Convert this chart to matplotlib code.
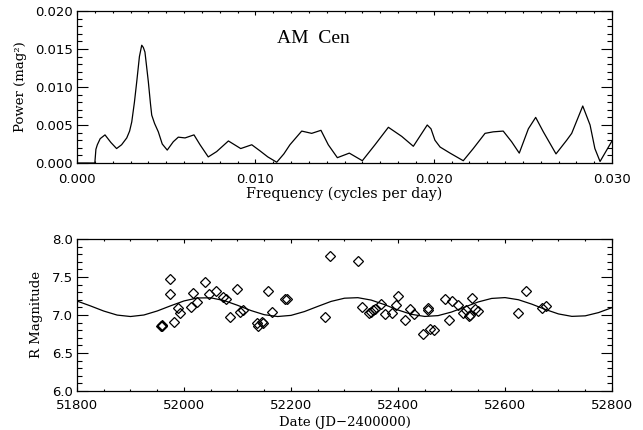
import matplotlib
matplotlib.use("Agg")
import matplotlib.pyplot as plt
from matplotlib.ticker import MultipleLocator, FormatStrFormatter


# periodogram (upper panel)
freq = [0.0, 0.00100, 0.00106, 0.00114, 0.00130, 0.00157, 0.00190, 0.00222, 0.00250,
        0.00279, 0.00295, 0.00307, 0.00322, 0.00335, 0.00350, 0.00363, 0.00372, 0.00381,
        0.00400, 0.00412, 0.00419, 0.00435, 0.00456, 0.00478, 0.00506, 0.00540, 0.00568,
        0.00606, 0.00656, 0.00690, 0.00736, 0.00783, 0.00849, 0.00918, 0.00980, 0.01026,
        0.01070, 0.01120, 0.01160, 0.01194, 0.01260, 0.01316, 0.01368, 0.01409, 0.01460,
        0.01527, 0.01600, 0.01671, 0.01746, 0.01821, 0.01886, 0.01964, 0.01985, 0.02007,
        0.02036, 0.02092, 0.02166, 0.02222, 0.02288, 0.02334, 0.02390, 0.02437, 0.02480,
        0.02531, 0.02572, 0.02615, 0.02686, 0.02746, 0.02774, 0.02836, 0.02877, 0.02904,
        0.02933, 0.03000]
power = [0.0, 0.0, 0.0018, 0.0024, 0.0032, 0.0037, 0.0027, 0.0019, 0.0024,
         0.0033, 0.0042, 0.0054, 0.0080, 0.0107, 0.0140, 0.0155, 0.0152, 0.0146,
         0.0107, 0.0078, 0.0063, 0.0052, 0.0041, 0.0025, 0.0017, 0.0028, 0.0034,
         0.0033, 0.0037, 0.0024, 0.0008, 0.0015, 0.0029, 0.0019, 0.0024, 0.0016,
         0.0008, 0.0001, 0.0012, 0.0024, 0.0042, 0.0039, 0.0043, 0.0024, 0.0007,
         0.0013, 0.0003, 0.0024, 0.0047, 0.0035, 0.0022, 0.0050, 0.0045, 0.0030,
         0.0021, 0.0013, 0.0003, 0.0019, 0.0039, 0.0041, 0.0042, 0.0028, 0.0013,
         0.0045, 0.0060, 0.0041, 0.0012, 0.0030, 0.0039, 0.0075, 0.0050, 0.0019,
         0.0002, 0.0029]

# photometry (lower panel)
jd = [51957, 51958, 51959, 51974, 51974, 51982, 51988, 51993, 52013, 52017, 52024,
      52040, 52047, 52060, 52072, 52079, 52086, 52100, 52105, 52111, 52136, 52139,
      52145, 52148, 52157, 52164, 52188, 52192, 52264, 52272, 52326, 52333, 52345,
      52350, 52354, 52357, 52368, 52376, 52389, 52396, 52400, 52413, 52422, 52429,
      52447, 52456, 52457, 52459, 52467, 52487, 52495, 52501, 52513, 52521, 52527,
      52533, 52534, 52539, 52544, 52550, 52625, 52639, 52670, 52677]
rmag = [6.86, 6.87, 6.85, 7.48, 7.28, 6.91, 7.09, 7.02, 7.10, 7.29, 7.17,
        7.43, 7.28, 7.31, 7.24, 7.21, 6.98, 7.34, 7.04, 7.07, 6.89, 6.85,
        6.91, 6.90, 7.32, 7.04, 7.21, 7.21, 6.98, 7.78, 7.71, 7.10, 7.03,
        7.04, 7.07, 7.08, 7.14, 7.01, 7.02, 7.13, 7.25, 6.94, 7.08, 7.01,
        6.75, 7.09, 7.07, 6.82, 6.80, 7.21, 6.93, 7.19, 7.13, 7.03, 7.07,
        6.99, 7.00, 7.23, 7.08, 7.05, 7.02, 7.31, 7.09, 7.12]

# fitted curve every 25 days
fit_jd = list(range(51800, 52801, 25))
fit_mag = [7.184, 7.120, 7.052, 6.999, 6.980, 7.000, 7.053, 7.121, 7.185, 7.224,
           7.226, 7.190, 7.128, 7.059, 7.004, 6.980, 6.995, 7.045, 7.113, 7.179,
           7.221, 7.228, 7.196, 7.136, 7.066, 7.009, 6.981, 6.992, 7.039, 7.105,
           7.172, 7.218, 7.229, 7.201, 7.143, 7.074, 7.014, 6.982, 6.989, 7.032,
           7.097]

W, H = 643, 430
fig = plt.figure(figsize=(W / 100, H / 100), dpi=100)
ax1 = fig.add_axes([77 / W, 1 - 163 / H, 535 / W, 152 / H])
ax2 = fig.add_axes([77 / W, 1 - 391 / H, 535 / W, 152 / H])

lab = dict(family="DejaVu Serif", fontsize=9.5)

for ax in (ax1, ax2):
    for s in ax.spines.values():
        s.set_linewidth(0.9)
    ax.tick_params(which="both", direction="in", top=True, right=True,
                   width=0.8, labelsize=9.5)
    ax.tick_params(axis="x", which="major", length=2.6)
    ax.tick_params(axis="x", which="minor", length=1.4)
    ax.tick_params(axis="y", which="major", length=7.7, pad=3)
    ax.tick_params(axis="y", which="minor", length=3.9)

ax1.plot(freq, power, color="black", lw=0.9)
ax1.set_xlim(0, 0.03)
ax1.set_ylim(0, 0.02)
ax1.xaxis.set_major_locator(MultipleLocator(0.01))
ax1.xaxis.set_minor_locator(MultipleLocator(0.001))
ax1.yaxis.set_major_locator(MultipleLocator(0.005))
ax1.yaxis.set_minor_locator(MultipleLocator(0.001))
ax1.xaxis.set_major_formatter(FormatStrFormatter("%.3f"))
ax1.yaxis.set_major_formatter(FormatStrFormatter("%.3f"))
ax1.tick_params(axis="x", pad=7.5)
ax1.set_xlabel("Frequency (cycles per day)", va="center", family="DejaVu Serif",
               fontsize=10.3)
ax1.xaxis.set_label_coords(0.5, -0.205)
ax1.set_ylabel("Power (mag²)", va="center", **lab)
ax1.yaxis.set_label_coords(-0.1065, 0.5)
ax1.text(0.0112, 0.0164, "AM  Cen", family="Liberation Serif", fontsize=14,
         va="center", ha="left")

ax2.plot(fit_jd, fit_mag, color="black", lw=0.9)
ax2.plot(jd, rmag, ls="none", marker="D", ms=4.6, mfc="none", mec="black", mew=0.9)
ax2.set_xlim(51800, 52800)
ax2.set_ylim(6.0, 8.0)
ax2.xaxis.set_major_locator(MultipleLocator(200))
ax2.xaxis.set_minor_locator(MultipleLocator(50))
ax2.yaxis.set_major_locator(MultipleLocator(0.5))
ax2.yaxis.set_minor_locator(MultipleLocator(0.1))
ax2.xaxis.set_major_formatter(FormatStrFormatter("%d"))
ax2.yaxis.set_major_formatter(FormatStrFormatter("%.1f"))
ax2.tick_params(axis="x", pad=5.5)
ax2.set_xlabel("Date (JD\u22122400000)", va="center", **lab)
ax2.xaxis.set_label_coords(0.5, -0.205)
ax2.set_ylabel("R Magnitude", va="center", **lab)
ax2.yaxis.set_label_coords(-0.0753, 0.5)

fig.savefig("out.png", dpi=100)
